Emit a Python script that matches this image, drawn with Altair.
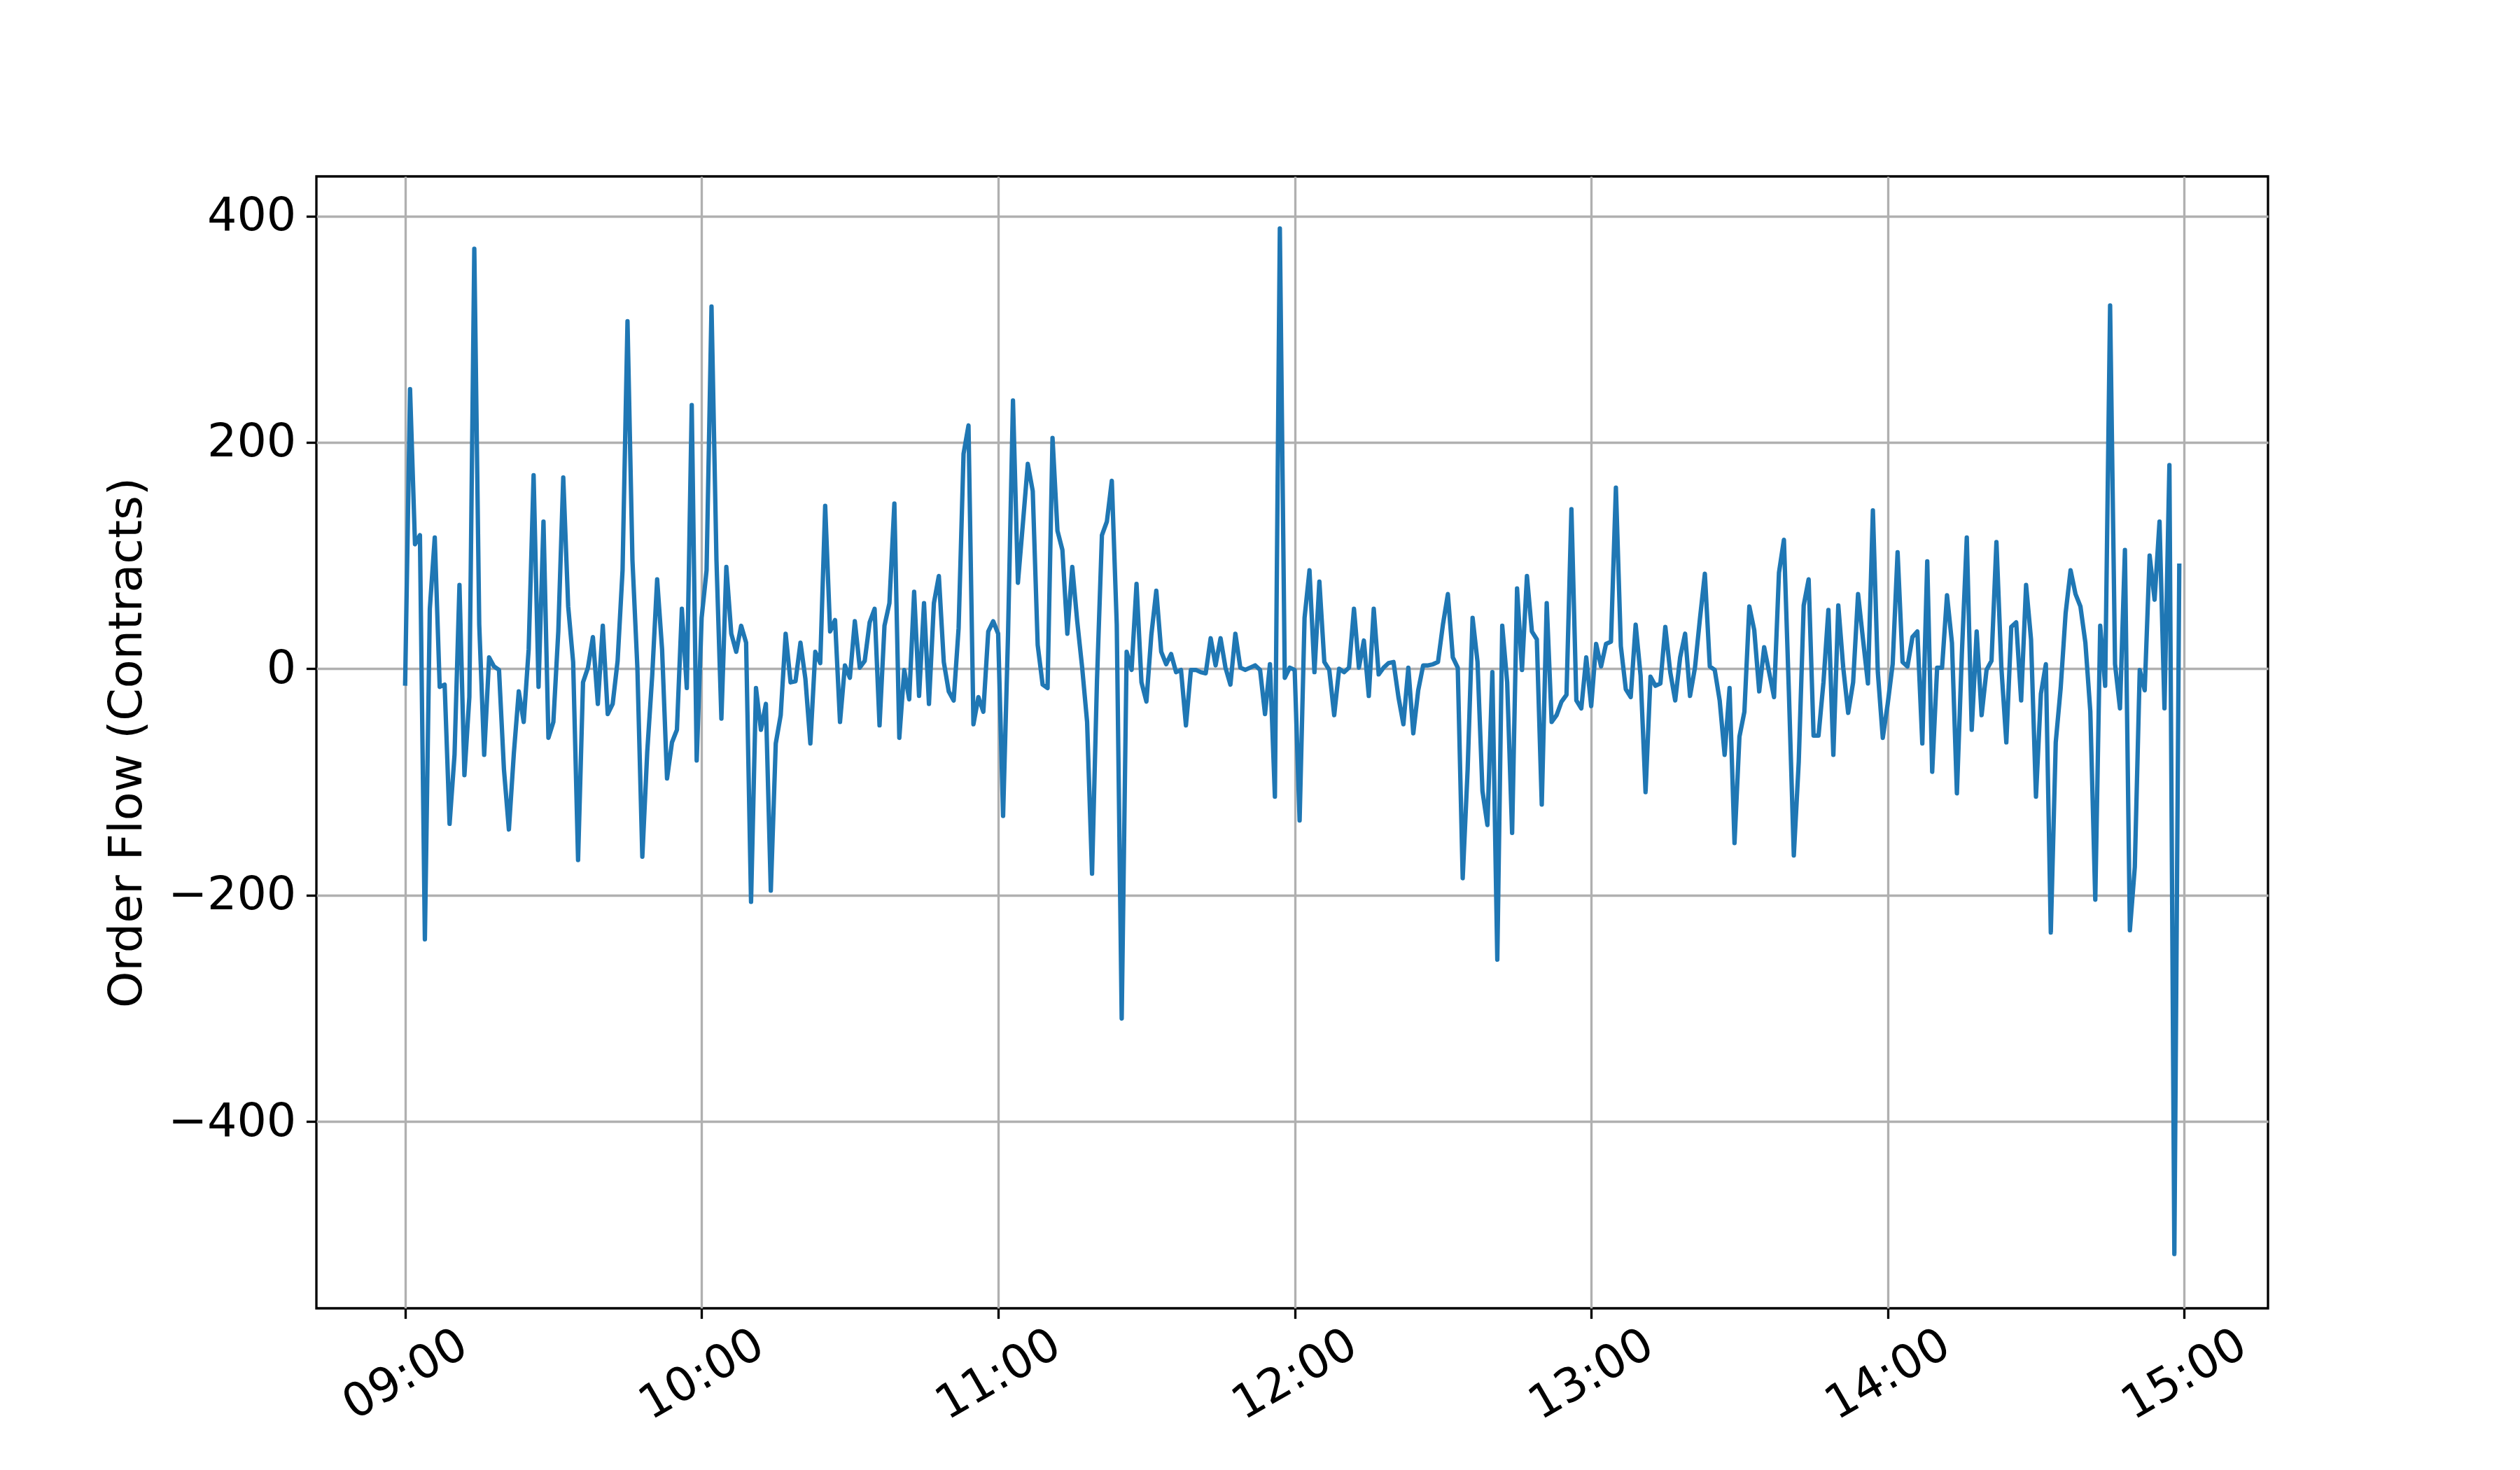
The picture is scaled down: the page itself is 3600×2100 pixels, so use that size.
import altair as alt
import pandas as pd

# Order flow per minute, 09:00 .. 14:59
flow = [
    -15, 247, 110, 118, -239, 53, 116, -16, -14, -137,
    -76, 74, -94, -25, 371, 39, -76, 10, 2, -1,
    -89, -142, -75, -20, -47, 17, 171, -16, 130, -61,
    -47, 33, 169, 55, 6, -169, -12, 1, 28, -31,
    38, -40, -31, 7, 87, 307, 96, 1, -166, -73,
    -6, 79, 17, -97, -65, -54, 53, -17, 233, -81,
    45, 87, 320, 96, -44, 90, 31, 15, 38, 23,
    -206, -17, -54, -31, -196, -66, -41, 31, -12, -11,
    23, -9, -66, 15, 5, 144, 33, 43, -47, 3,
    -8, 42, 1, 7, 41, 53, -50, 38, 58, 146,
    -61, -1, -27, 68, -24, 58, -31, 58, 82, 6,
    -20, -28, 36, 190, 215, -49, -25, -38, 33, 42,
    31, -130, 30, 237, 76, 128, 181, 157, 21, -14,
    -17, 204, 122, 105, 31, 90, 42, 1, -47, -181,
    -10, 118, 130, 166, 39, -309, 15, -1, 75, -12,
    -29, 30, 69, 15, 4, 13, -3, -1, -50, -1,
    -1, -3, -4, 27, 3, 27, 1, -14, 31, 1,
    -1, 1, 3, -1, -40, 4, -113, 389, -8, 1,
    -1, -134, 45, 87, -3, 77, 6, -1, -41, 0,
    -3, 1, 53, 1, 25, -24, 53, -5, 1, 5,
    6, -25, -49, 1, -57, -19, 3, 3, 4, 6,
    39, 66, 10, 1, -185, -89, 45, 6, -108, -138,
    -3, -257, 38, -12, -145, 71, -1, 82, 33, 26,
    -120, 58, -47, -41, -29, -23, 141, -28, -35, 10,
    -33, 22, 2, 22, 24, 160, 20, -18, -25, 39,
    -6, -109, -7, -15, -13, 37, -3, -28, 10, 31,
    -24, 1, 44, 84, 2, -1, -28, -76, -17, -154,
    -60, -38, 55, 34, -20, 19, -3, -25, 85, 114,
    -20, -165, -82, 56, 79, -59, -59, -12, 52, -76,
    56, 1, -39, -12, 66, 26, -13, 140, -3, -61,
    -31, 4, 103, 6, 2, 28, 33, -66, 95, -91,
    1, 1, 65, 23, -110, 13, 116, -54, 33, -41,
    -1, 7, 112, 1, -65, 37, 41, -28, 74, 26,
    -113, -22, 4, -233, -65, -17, 49, 87, 66, 55,
    23, -38, -204, 38, -15, 321, 4, -35, 105, -231,
    -175, -1, -19, 100, 61, 130, -35, 180, -517, 93,
]

start_time = "2024-01-02 09:00"
tick_hours = [9, 10, 11, 12, 13, 14, 15]
y_ticks = [-400, -200, 0, 200, 400]
y_title = "Order Flow (Contracts)"

times = pd.date_range(start_time, periods=len(flow), freq="min")
df = pd.DataFrame({"time": times.strftime("%Y-%m-%dT%H:%M:%S"), "flow": flow})

x_domain = [
    alt.DateTime(year=2024, month=1, date=2, hours=8, minutes=42, seconds=3),
    alt.DateTime(year=2024, month=1, date=2, hours=15, minutes=16, seconds=57),
]
x_values = [alt.DateTime(year=2024, month=1, date=2, hours=h, minutes=0) for h in tick_hours]

FS = 66.7
LW = 3.33

chart = (
    alt.Chart(df)
    .mark_line(color="#1f77b4", strokeWidth=6.25, strokeJoin="round", clip=True)
    .encode(
        x=alt.X(
            "time:T",
            scale=alt.Scale(domain=x_domain, nice=False),
            axis=alt.Axis(
                values=x_values,
                format="%H:%M",
                labelAngle=-30,
                labelAlign="center",
                labelBaseline="middle",
                labelPadding=80,
                title=None,
                labelOverlap=False,
                labelFlush=False,
                labelLimit=1000,
            ),
        ),
        y=alt.Y(
            "flow:Q",
            scale=alt.Scale(domain=[-565, 435], nice=False, zero=False),
            axis=alt.Axis(
                values=y_ticks,
                title=y_title,
                titlePadding=37,
                labelPadding=14.6,
                labelLimit=1000,
            ),
        ),
    )
    .properties(
        width=2788,
        height=1617,
        autosize=alt.AutoSizeParams(type="none"),
        padding={"left": 444, "top": 244, "right": 340, "bottom": 210},
    )
    .configure(font="DejaVu Sans", background="white")
    .configure_axis(
        labelFont="DejaVu Sans",
        titleFont="DejaVu Sans",
        labelFontSize=FS,
        titleFontSize=FS,
        titleFontWeight="normal",
        labelColor="black",
        titleColor="black",
        grid=True,
        gridColor="#b0b0b0",
        gridWidth=LW,
        domain=False,
        ticks=True,
        tickColor="black",
        tickSize=14.6,
        tickWidth=LW,
    )
    .configure_view(stroke="black", strokeWidth=LW)
)

chart.save("out.html", embed_options={"renderer": "svg", "actions": False})
